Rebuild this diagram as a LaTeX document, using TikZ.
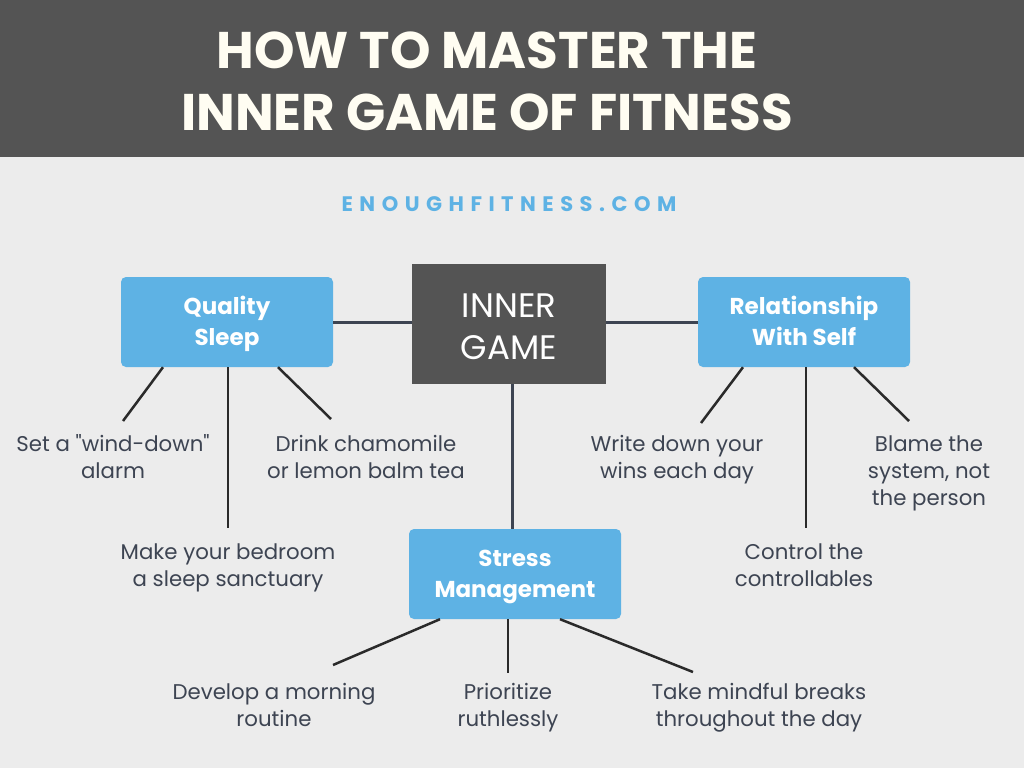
\documentclass[tikz,border=0pt]{standalone}
\usepackage{fontspec}
\setmainfont{Poppins}
\newfontfamily\spacedfont[LetterSpace=31]{Poppins}
\newfontfamily\qfont[Ligatures=ResetAll]{Poppins}
\definecolor{bg}{HTML}{ECECEC}
\definecolor{hdr}{HTML}{545454}
\definecolor{blu}{HTML}{5EB2E4}
\definecolor{txt}{HTML}{3D4452}
\definecolor{cream}{HTML}{FFFDF2}
\definecolor{lin}{HTML}{2A2A2A}
\newcommand\tst{\rule[-7pt]{0pt}{29pt}}
\newcommand\cst{\rule[-4pt]{0pt}{36pt}}
\newcommand\lst{\rule[-5pt]{0pt}{25pt}}
\newcommand\hst{\rule[-10pt]{0pt}{56pt}}
\newcommand\dq{{\qfont\symbol{34}}}
\begin{document}
\begin{tikzpicture}[x=1pt,y=-1pt,
  topic/.style={fill=blu, rounded corners=5pt, minimum width=212pt, minimum height=90pt,
     text=white, align=center, font=\bfseries\fontsize{23}{31}\selectfont, inner sep=0pt},
  core/.style={fill=hdr, minimum width=194pt, minimum height=120pt, text=white, align=center,
     font=\fontsize{34}{42}\selectfont, inner sep=0pt},
  leaf/.style={text=txt, align=center, font=\fontsize{21.3}{27}\selectfont, inner sep=0pt},
  mainline/.style={draw=txt, line width=3pt},
  leafline/.style={draw=lin, line width=2.5pt}]
\useasboundingbox (0,0) rectangle (1024,768);
\fill[bg] (0,0) rectangle (1024,768);
\fill[hdr] (0,0) rectangle (1024,157);
\node[text=cream, align=center, inner sep=0pt, font=\bfseries\fontsize{51.5}{62}\selectfont] (title) at (487,81)
  {\hst HOW TO MASTER THE\\\hst INNER GAME OF FITNESS};
\node[text=blu, inner sep=0pt, font=\spacedfont\bfseries\fontsize{21}{25}\selectfont] (site) at (509,204) {ENOUGHFITNESS.COM};

\node[core] (core) at (509,324) {\cst INNER\\\cst GAME};
\node[topic] (qs) at (227,322) {\tst Quality\\\tst Sleep};
\node[topic] (rs) at (804,322) {\tst Relationship\\\tst With Self};
\node[topic] (sm) at (515,574) {\tst Stress\\\tst Management};

\draw[mainline] (qs.east) -- (qs.east -| core.west);
\draw[mainline] (core.east |- rs.west) -- (rs.west);
\draw[mainline] (core.south -| 512,0) -- (sm.north -| 512,0);

% Quality Sleep leaves
\node[leaf] (q1) at (113,457.5) {\lst Set a \dq wind-down\dq\\\lst alarm};
\node[leaf] (q2) at (228,565.5) {\lst Make your bedroom\\\lst a sleep sanctuary};
\node[leaf] (q3) at (366,457.5) {\lst Drink chamomile\\\lst or lemon balm tea};
\coordinate (q1e) at (123,421);
\coordinate (q2e) at (228,528);
\coordinate (q3e) at (331,419);
\draw[leafline] (qs.south -| 163,0) -- (q1e);
\draw[leafline] (qs.south -| 228,0) -- (q2e);
\draw[leafline] (qs.south -| 278,0) -- (q3e);

% Relationship leaves
\node[leaf] (r1) at (677,457.5) {\lst Write down your\\\lst wins each day};
\node[leaf] (r2) at (804,565.5) {\lst Control the\\\lst controllables};
\node[leaf] (r3) at (929,471) {\lst Blame the\\\lst system, not\\\lst the person};
\coordinate (r1e) at (701,423);
\coordinate (r2e) at (806,528);
\coordinate (r3e) at (909,421);
\draw[leafline] (rs.south -| 743,0) -- (r1e);
\draw[leafline] (rs.south -| 806,0) -- (r2e);
\draw[leafline] (rs.south -| 854,0) -- (r3e);

% Stress leaves
\node[leaf] (s1) at (274,705.5) {\lst Develop a morning\\\lst routine};
\node[leaf] (s2) at (508,705.5) {\lst Prioritize\\\lst ruthlessly};
\node[leaf] (s3) at (759,705.5) {\lst Take mindful breaks\\\lst throughout the day};
\coordinate (s1e) at (333,665);
\coordinate (s2e) at (508,673);
\coordinate (s3e) at (693,672);
\draw[leafline] (sm.south -| 440,0) -- (s1e);
\draw[leafline] (sm.south -| 508,0) -- (s2e);
\draw[leafline] (sm.south -| 560,0) -- (s3e);
\end{tikzpicture}
\end{document}
